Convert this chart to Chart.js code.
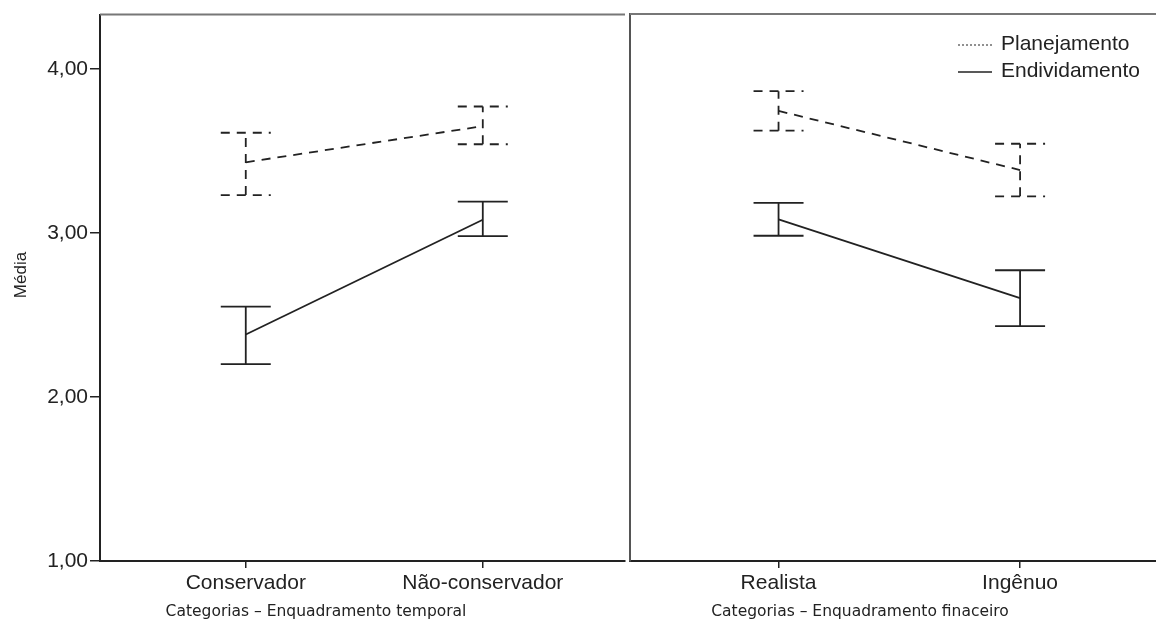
<!DOCTYPE html>
<html>
<head>
<meta charset="utf-8">
<script src="https://cdn.jsdelivr.net/npm/chart.js@4.4.1/dist/chart.umd.min.js"></script>
<style>
  html, body { margin: 0; padding: 0; background: #fff; overflow: hidden; }
  #wrap { position: relative; width: 1156px; height: 628px; }
  #left { position: absolute; left: 0; top: 0; }
  #right { position: absolute; left: 628px; top: 0; }
</style>
</head>
<body>
<div id="wrap">
  <canvas id="left" width="628" height="628"></canvas>
  <canvas id="right" width="537" height="628"></canvas>
</div>
<script>
// categorias de cada painel
const temporalCats = ['Conservador', 'Não-conservador'];
const financeiroCats = ['Realista', 'Ingênuo'];

// médias e intervalos
const planTemporal = [3.43, 3.65];
const planTemporalLow = [3.23, 3.54];
const planTemporalHigh = [3.61, 3.77];
const endivTemporal = [2.38, 3.08];
const endivTemporalLow = [2.20, 2.98];
const endivTemporalHigh = [2.55, 3.19];

const planFinanceiro = [3.74, 3.38];
const planFinanceiroLow = [3.62, 3.22];
const planFinanceiroHigh = [3.86, 3.54];
const endivFinanceiro = [3.08, 2.60];
const endivFinanceiroLow = [2.98, 2.43];
const endivFinanceiroHigh = [3.18, 2.77];

const yTicks = [1, 2, 3, 4];

const ink = '#222';
const dash = [9, 7];

function pts(vals) {
    return vals.map(function (v, i) { return { x: i, y: v }; });
}

function makeDatasets(plan, planLow, planHigh, endiv, endivLow, endivHigh) {
    return [
        {
            label: 'Planejamento',
            data: pts(plan),
            errLow: planLow,
            errHigh: planHigh,
            borderColor: ink,
            borderWidth: 1.8,
            borderDash: dash,
            pointRadius: 0,
            fill: false
        },
        {
            label: 'Endividamento',
            data: pts(endiv),
            errLow: endivLow,
            errHigh: endivHigh,
            borderColor: ink,
            borderWidth: 1.8,
            pointRadius: 0,
            fill: false
        }
    ];
}

// barras de erro com traço horizontal nas pontas
const errorBars = {
    id: 'errorBars',
    afterDatasetsDraw(chart) {
        const c = chart.ctx;
        const xs = chart.scales.x, ys = chart.scales.y;
        chart.data.datasets.forEach(function (ds) {
            c.save();
            c.strokeStyle = ds.borderColor;
            c.lineWidth = 1.8;
            c.setLineDash(ds.borderDash || []);
            ds.data.forEach(function (p, i) {
                const x = xs.getPixelForValue(p.x);
                const lo = ys.getPixelForValue(ds.errLow[i]);
                const hi = ys.getPixelForValue(ds.errHigh[i]);
                c.beginPath();
                c.moveTo(x, lo); c.lineTo(x, hi);
                c.moveTo(x - 25, lo); c.lineTo(x + 25, lo);
                c.moveTo(x - 25, hi); c.lineTo(x + 25, hi);
                c.stroke();
            });
            c.restore();
        });
    }
};

// linha superior da moldura e legendas de eixo
const frame = {
    id: 'frame',
    afterDraw(chart, args, opts) {
        const c = chart.ctx;
        const a = chart.chartArea;
        c.save();
        c.strokeStyle = '#777';
        c.lineWidth = 2;
        c.beginPath();
        c.moveTo(a.left, a.top);
        c.lineTo(a.right, a.top);
        c.stroke();

        c.fillStyle = ink;
        c.textAlign = 'center';
        c.textBaseline = 'middle';
        c.font = '15.5px "DejaVu Sans"';
        c.fillText(opts.xTitle, opts.xTitleX, 612);
        if (opts.yTitle) {
            c.font = '17px "Liberation Sans"';
            c.translate(21, 275);
            c.rotate(-Math.PI / 2);
            c.fillText(opts.yTitle, 0, 0);
        }
        c.restore();
    }
};

const legendBox = {
    id: 'legendBox',
    afterDraw(chart, args, opts) {
        if (!opts.show) return;
        const c = chart.ctx;
        c.save();
        c.font = '21px "Liberation Sans"';
        c.fillStyle = ink;
        c.textBaseline = 'middle';
        chart.data.datasets.forEach(function (ds, i) {
            const y = opts.y + i * 27;
            c.strokeStyle = ink;
            c.lineWidth = ds.borderDash ? 1 : 1.5;
            c.setLineDash(ds.borderDash ? [2, 2] : []);
            c.beginPath();
            c.moveTo(opts.x, y + 1);
            c.lineTo(opts.x + 34, y + 1);
            c.stroke();
            c.fillText(ds.label, opts.x + 43, y);
        });
        c.restore();
    }
};

function makeChart(id, cats, datasets, isLeft, xTitle, xTitleX) {
    return new Chart(document.getElementById(id), {
        type: 'line',
        data: { datasets: datasets },
        plugins: [errorBars, frame, legendBox],
        options: {
            responsive: false,
            animation: false,
            layout: { padding: { top: 14, right: isLeft ? 3 : 0, left: 0, bottom: 0 } },
            plugins: {
                legend: { display: false },
                tooltip: { enabled: false },
                frame: { xTitle: xTitle, xTitleX: xTitleX, yTitle: isLeft ? 'Média' : null },
                legendBox: { show: !isLeft, x: 330, y: 44 }
            },
            scales: {
                x: {
                    type: 'linear',
                    min: -0.615,
                    max: 1.6,
                    afterBuildTicks(scale) { scale.ticks = [{ value: 0 }, { value: 1 }]; },
                    afterFit(scale) { scale.height = 67; },
                    ticks: {
                        color: ink,
                        padding: 3,
                        maxRotation: 0,
                        font: { family: 'Liberation Sans', size: 21 },
                        callback: function (v) { return cats[v]; }
                    },
                    grid: { drawOnChartArea: false, tickLength: 7, color: ink, lineWidth: 1.5 },
                    border: { color: ink, width: 2 }
                },
                y: {
                    type: 'linear',
                    min: 1,
                    max: 4.33,
                    afterBuildTicks(scale) { scale.ticks = yTicks.map(function (v) { return { value: v }; }); },
                    afterFit(scale) { scale.width = isLeft ? 100 : 2; },
                    ticks: {
                        display: isLeft,
                        color: ink,
                        padding: 2,
                        font: { family: 'Liberation Sans', size: 21 },
                        callback: function (v) { return v.toFixed(2).replace('.', ','); }
                    },
                    grid: { drawOnChartArea: false, drawTicks: isLeft, tickLength: 10, color: ink, lineWidth: 1.5 },
                    border: { color: isLeft ? ink : '#555', width: 2 }
                }
            }
        }
    });
}

makeChart('left', temporalCats,
    makeDatasets(planTemporal, planTemporalLow, planTemporalHigh, endivTemporal, endivTemporalLow, endivTemporalHigh),
    true, 'Categorias – Enquadramento temporal', 316);

makeChart('right', financeiroCats,
    makeDatasets(planFinanceiro, planFinanceiroLow, planFinanceiroHigh, endivFinanceiro, endivFinanceiroLow, endivFinanceiroHigh),
    false, 'Categorias – Enquadramento finaceiro', 232);
</script>
</body>
</html>
